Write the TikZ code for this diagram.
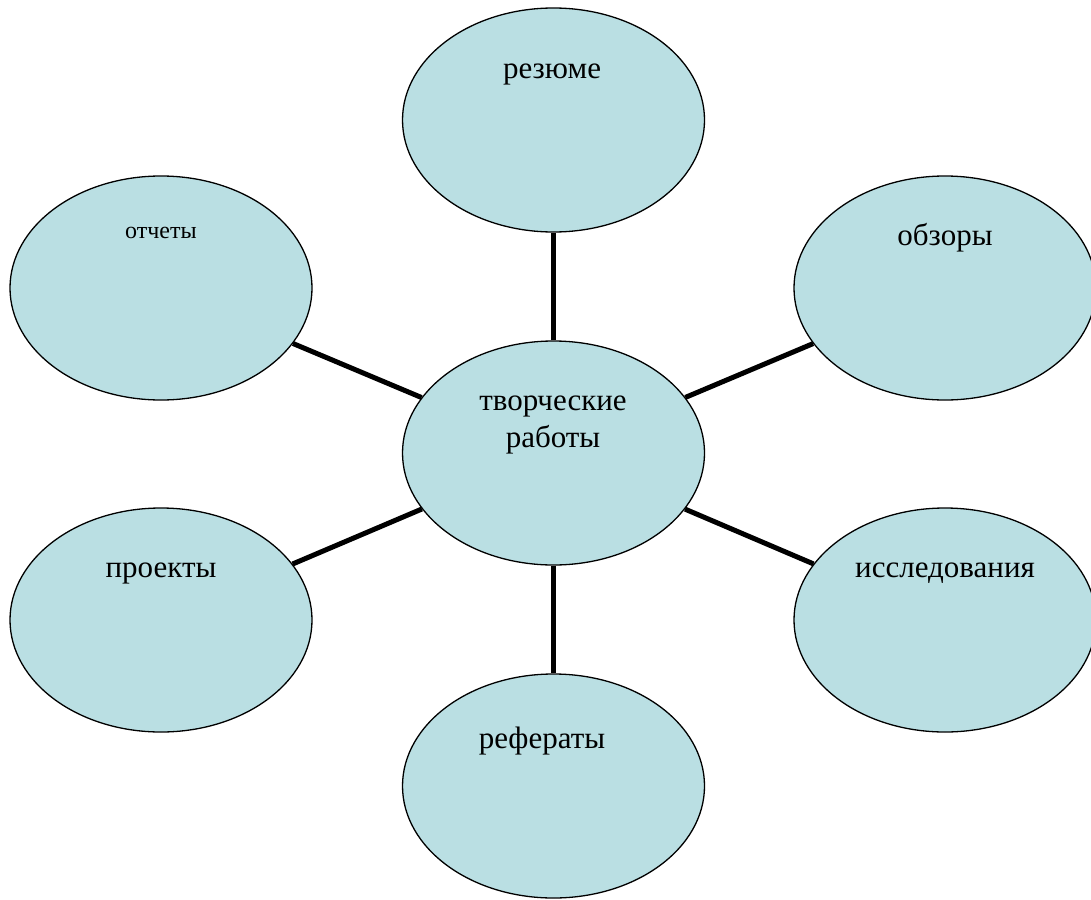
\documentclass[tikz,border=0pt]{standalone}
\usepackage{fontspec}
\setmainfont{Liberation Serif}
\usetikzlibrary{shapes.geometric}
\definecolor{bubble}{RGB}{186,223,227}
\tikzset{
  bubble/.style={ellipse, draw=black, line width=1.3pt, fill=bubble,
    minimum width=302pt, minimum height=224pt, inner sep=0pt},
  lbl/.style={anchor=base, inner sep=0pt, font=\fontsize{31}{37}\selectfont},
  smalllbl/.style={anchor=base, inner sep=0pt, font=\fontsize{24}{28}\selectfont},
  link/.style={line width=5pt, draw=black}
}
\begin{document}
\begin{tikzpicture}[x=1pt,y=-1pt]
\useasboundingbox (0,0) rectangle (1091,899);
\begin{scope}
\clip (0,0) rectangle (1091,899);
\node[bubble] (c) at (553.5,453) {};
\node[bubble] (top) at (553.5,120) {};
\node[bubble] (tl) at (161,288) {};
\node[bubble] (tr) at (945,288) {};
\node[bubble] (bl) at (161,620) {};
\node[bubble] (br) at (945,620) {};
\node[bubble] (bot) at (553.5,786) {};
\draw[link] (c) -- (top);
\draw[link] (c) -- (tl);
\draw[link] (c) -- (tr);
\draw[link] (c) -- (bl);
\draw[link] (c) -- (br);
\draw[link] (c) -- (bot);
\end{scope}
\node[lbl] (tc1) at (553,410) {творческие};
\node[lbl] (tc2) at (553,447) {работы};
\node[lbl] (ttop) at (552,78) {резюме};
\node[smalllbl] (ttl) at (161,238) {отчеты};
\node[lbl] (ttr) at (945,245) {обзоры};
\node[lbl] (tbl) at (161,577) {проекты};
\node[lbl] (tbr) at (945,577) {исследования};
\node[lbl] (tbot) at (542,748) {рефераты};
\end{tikzpicture}
\end{document}
